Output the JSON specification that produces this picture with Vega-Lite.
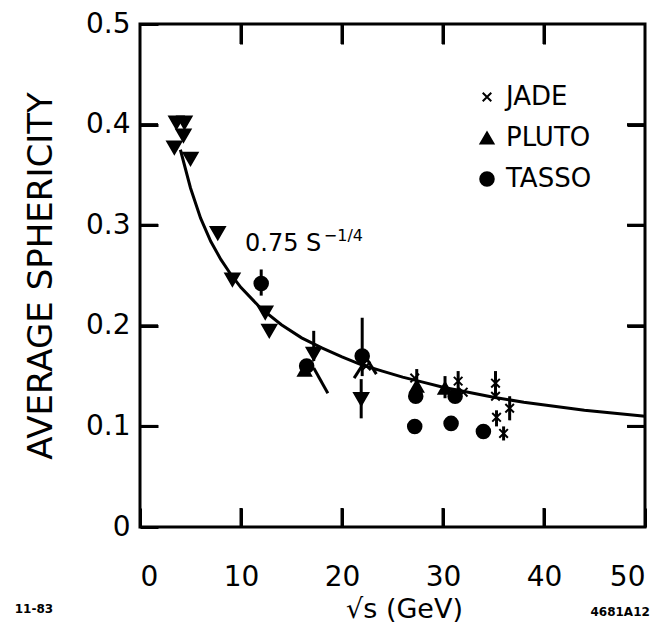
{
  "$schema": "https://vega.github.io/schema/vega-lite/v6.json",
  "width": 505,
  "height": 503,
  "autosize": {"type": "none"},
  "padding": {"left": 140, "top": 24, "right": 25, "bottom": 107},
  "background": "white",
  "config": {
    "view": {"stroke": "black", "strokeWidth": 3},
    "font": "DejaVu Sans"
  },
  "datasets": {
    "curve": [
      {"x": 4.0, "y": 0.375}, {"x": 5, "y": 0.337}, {"x": 6, "y": 0.307}, {"x": 7, "y": 0.284},
      {"x": 8, "y": 0.266}, {"x": 9, "y": 0.251}, {"x": 10, "y": 0.238}, {"x": 12, "y": 0.217},
      {"x": 14, "y": 0.201}, {"x": 16, "y": 0.188}, {"x": 18, "y": 0.178}, {"x": 20, "y": 0.169},
      {"x": 22, "y": 0.161}, {"x": 24, "y": 0.155}, {"x": 26, "y": 0.149}, {"x": 28, "y": 0.144},
      {"x": 30, "y": 0.139}, {"x": 32, "y": 0.135}, {"x": 35, "y": 0.129}, {"x": 38, "y": 0.124},
      {"x": 41, "y": 0.120}, {"x": 44, "y": 0.116}, {"x": 47, "y": 0.113}, {"x": 50, "y": 0.110}
    ],
    "points": [
      {"x": 3.6, "y": 0.402, "exp": "other"},
      {"x": 4.4, "y": 0.402, "exp": "other"},
      {"x": 4.3, "y": 0.389, "exp": "other"},
      {"x": 3.4, "y": 0.377, "exp": "other"},
      {"x": 5.0, "y": 0.366, "exp": "other"},
      {"x": 7.7, "y": 0.292, "exp": "other"},
      {"x": 9.15, "y": 0.246, "exp": "other"},
      {"x": 12.4, "y": 0.213, "exp": "other"},
      {"x": 12.8, "y": 0.195, "exp": "other"},
      {"x": 17.2, "y": 0.172, "exp": "other", "lo": 0.165, "hi": 0.195},
      {"x": 21.9, "y": 0.127, "exp": "other", "lo": 0.108, "hi": 0.147},
      {"x": 12.0, "y": 0.242, "exp": "TASSO", "lo": 0.230, "hi": 0.256},
      {"x": 16.5, "y": 0.160, "exp": "TASSO"},
      {"x": 22.0, "y": 0.170, "exp": "TASSO", "lo": 0.150, "hi": 0.208},
      {"x": 27.2, "y": 0.100, "exp": "TASSO", "lo": 0.093, "hi": 0.107},
      {"x": 30.8, "y": 0.103, "exp": "TASSO", "lo": 0.096, "hi": 0.110},
      {"x": 34.0, "y": 0.095, "exp": "TASSO"},
      {"x": 27.3, "y": 0.130, "exp": "TASSO"},
      {"x": 31.2, "y": 0.130, "exp": "TASSO"},
      {"x": 16.3, "y": 0.156, "exp": "PLUTO"},
      {"x": 27.4, "y": 0.140, "exp": "PLUTO", "lo": 0.125, "hi": 0.157},
      {"x": 30.2, "y": 0.138, "exp": "PLUTO", "lo": 0.128, "hi": 0.150},
      {"x": 22.4, "y": 0.160, "exp": "JADE"},
      {"x": 27.2, "y": 0.148, "exp": "JADE"},
      {"x": 31.5, "y": 0.145, "exp": "JADE", "lo": 0.133, "hi": 0.155},
      {"x": 32.0, "y": 0.134, "exp": "JADE"},
      {"x": 35.2, "y": 0.143, "exp": "JADE", "lo": 0.128, "hi": 0.155},
      {"x": 35.2, "y": 0.130, "exp": "JADE"},
      {"x": 35.3, "y": 0.109, "exp": "JADE", "lo": 0.100, "hi": 0.116},
      {"x": 36.0, "y": 0.093, "exp": "JADE", "lo": 0.086, "hi": 0.100},
      {"x": 36.6, "y": 0.118, "exp": "JADE", "lo": 0.106, "hi": 0.130}
    ],
    "segs": [
      {"x": 17.2, "y": 0.158, "x2": 18.6, "y2": 0.133},
      {"x": 21.2, "y": 0.148, "x2": 22.6, "y2": 0.170},
      {"x": 22.4, "y": 0.168, "x2": 23.4, "y2": 0.152}
    ],
    "xticks": [
      {"v": 10, "lo": 0, "hi": 0.5}, {"v": 20, "lo": 0, "hi": 0.5},
      {"v": 30, "lo": 0, "hi": 0.5}, {"v": 40, "lo": 0, "hi": 0.5}
    ],
    "yticks": [
      {"v": 0.1, "lo": 0, "hi": 50}, {"v": 0.2, "lo": 0, "hi": 50},
      {"v": 0.3, "lo": 0, "hi": 50}, {"v": 0.4, "lo": 0, "hi": 50}
    ],
    "notes": [
      {"x": -12.4, "y": -0.082, "text": "11-83"},
      {"x": 44.6, "y": -0.084, "text": "4681A12"}
    ]
  },
  "layer": [
    {
      "data": {"name": "curve"},
      "mark": {"type": "line", "color": "black", "strokeWidth": 3},
      "encoding": {
        "x": {"field": "x", "type": "quantitative", "scale": {"domain": [0, 50], "nice": false},
              "axis": {"orient": "top", "labels": false, "title": null, "domain": false, "grid": false, "ticks": true, "tickColor": "black", "tickWidth": 3, "values": [10, 20, 30, 40], "offset": -20, "tickSize": 20}},
        "y": {"field": "y", "type": "quantitative", "scale": {"domain": [0, 0.5], "nice": false},
              "axis": {"orient": "right", "labels": false, "title": null, "domain": false, "grid": false, "ticks": true, "tickColor": "black", "tickWidth": 3, "values": [0.1, 0.2, 0.3, 0.4], "offset": -18, "tickSize": 18}}
      }
    },
    {
      "data": {"name": "xticks"},
      "mark": {"type": "tick", "orient": "vertical", "color": "black", "size": 19, "thickness": 3, "yOffset": -9.5, "opacity": 1},
      "encoding": {
        "x": {"field": "v", "type": "quantitative", "axis": null},
        "y": {"field": "lo", "type": "quantitative", "axis": null}
      }
    },
    {
      "data": {"name": "xticks"},
      "mark": {"type": "tick", "orient": "vertical", "color": "black", "size": 20, "thickness": 3, "yOffset": 10, "opacity": 1},
      "encoding": {
        "x": {"field": "v", "type": "quantitative", "axis": null},
        "y": {"field": "hi", "type": "quantitative", "axis": null}
      }
    },
    {
      "data": {"name": "yticks"},
      "mark": {"type": "tick", "orient": "horizontal", "color": "black", "size": 18, "thickness": 3, "xOffset": 9, "opacity": 1},
      "encoding": {
        "y": {"field": "v", "type": "quantitative", "axis": null},
        "x": {"field": "lo", "type": "quantitative", "axis": null}
      }
    },
    {
      "data": {"name": "yticks"},
      "mark": {"type": "tick", "orient": "horizontal", "color": "black", "size": 18, "thickness": 3, "xOffset": -9, "opacity": 1},
      "encoding": {
        "y": {"field": "v", "type": "quantitative", "axis": null},
        "x": {"field": "hi", "type": "quantitative", "axis": null}
      }
    },
    {
      "data": {"name": "points"},
      "transform": [{"filter": "isValid(datum.lo)"}],
      "mark": {"type": "rule", "color": "black", "strokeWidth": 3},
      "encoding": {
        "x": {"field": "x", "type": "quantitative", "axis": null},
        "y": {"field": "lo", "type": "quantitative", "axis": null},
        "y2": {"field": "hi"}
      }
    },
    {
      "data": {"name": "segs"},
      "mark": {"type": "rule", "color": "black", "strokeWidth": 3},
      "encoding": {
        "x": {"field": "x", "type": "quantitative", "axis": null},
        "y": {"field": "y", "type": "quantitative", "axis": null},
        "x2": {"field": "x2"},
        "y2": {"field": "y2"}
      }
    },
    {
      "data": {"name": "points"},
      "mark": {"type": "point", "filled": true, "fill": "black", "stroke": "black", "strokeWidth": 2, "opacity": 1},
      "encoding": {
        "x": {"field": "x", "type": "quantitative",
              "axis": {"orient": "bottom", "domain": false, "grid": false, "ticks": true, "tickColor": "black", "tickWidth": 3, "values": [0, 10, 20, 30, 40, 50], "offset": -19, "tickSize": 19, "labelPadding": 36, "labelFontSize": 28, "labelColor": "black", "labelFont": "DejaVu Sans",
                       "title": "√s   (GeV)", "titleFont": "DejaVu Sans", "titleFontWeight": "normal", "titleColor": "black", "titleFontSize": 27, "titlePadding": 5, "titleX": 264}},
        "y": {"field": "y", "type": "quantitative",
              "axis": {"orient": "left", "domain": false, "grid": false, "ticks": true, "tickColor": "black", "tickWidth": 3, "values": [0, 0.1, 0.2, 0.3, 0.4, 0.5], "offset": -18, "tickSize": 18, "labelPadding": 10, "labelFontSize": 28, "labelColor": "black", "labelFont": "DejaVu Sans",
                       "labelExpr": "datum.value == 0 ? '0' : format(datum.value, '.1f')",
                       "title": "AVERAGE SPHERICITY", "titleFont": "DejaVu Sans", "titleFontWeight": "normal", "titleColor": "black", "titleFontSize": 34, "titlePadding": 27}},
        "shape": {"field": "exp", "type": "nominal",
                  "scale": {"domain": ["JADE", "PLUTO", "TASSO", "other"], "range": ["M-0.7,-0.7L0.7,0.7M-0.7,0.7L0.7,-0.7", "triangle-up", "circle", "triangle-down"]},
                  "legend": {"orient": "none", "legendX": 334, "legendY": 60, "title": null, "values": ["JADE", "PLUTO", "TASSO"],
                             "labelFontSize": 26, "labelFont": "DejaVu Sans", "labelColor": "black", "labelOffset": 6, "rowPadding": 15,
                             "symbolFillColor": "black", "symbolStrokeColor": "black", "symbolStrokeWidth": 2}},
        "size": {"field": "exp", "type": "nominal",
                 "scale": {"domain": ["JADE", "PLUTO", "TASSO", "other"], "range": [150, 200, 130, 260]}}
      }
    },
    {
      "data": {"values": [{"x": 10.4, "y": 0.281, "text": "0.75 S"}]},
      "mark": {"type": "text", "align": "left", "baseline": "middle", "fontSize": 24, "color": "black"},
      "encoding": {
        "x": {"field": "x", "type": "quantitative", "axis": null},
        "y": {"field": "y", "type": "quantitative", "axis": null},
        "text": {"field": "text"}
      }
    },
    {
      "data": {"values": [{"x": 18.2, "y": 0.289, "text": "−1/4"}]},
      "mark": {"type": "text", "align": "left", "baseline": "middle", "fontSize": 16, "color": "black"},
      "encoding": {
        "x": {"field": "x", "type": "quantitative", "axis": null},
        "y": {"field": "y", "type": "quantitative", "axis": null},
        "text": {"field": "text"}
      }
    },
    {
      "data": {"name": "notes"},
      "mark": {"type": "text", "align": "left", "baseline": "middle", "fontSize": 12, "fontWeight": "bold", "color": "black"},
      "encoding": {
        "x": {"field": "x", "type": "quantitative", "axis": null},
        "y": {"field": "y", "type": "quantitative", "axis": null},
        "text": {"field": "text"}
      }
    }
  ]
}
